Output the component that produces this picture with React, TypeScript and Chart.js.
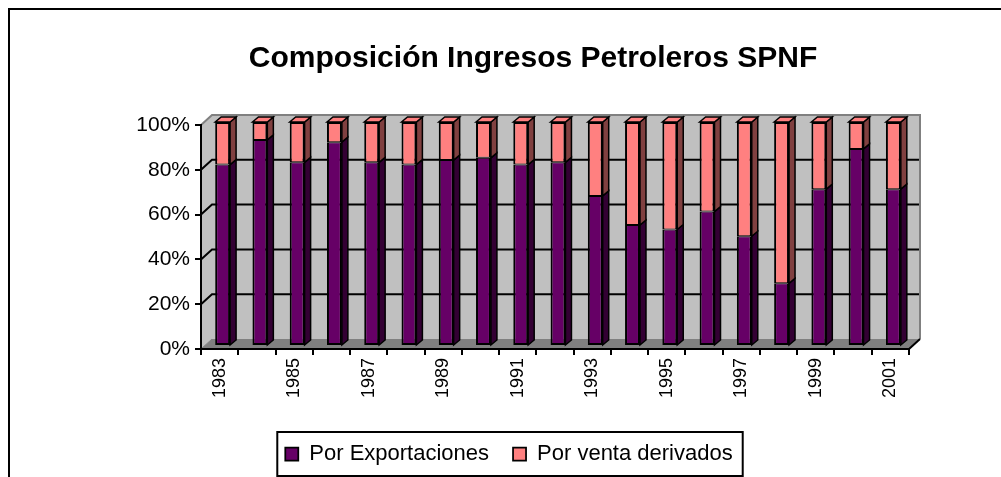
import React, { useEffect, useRef } from 'react';
import { Chart, registerables } from 'chart.js';

Chart.register(...registerables);

// ---- data ----
const years = ['1983', '1984', '1985', '1986', '1987', '1988', '1989', '1990', '1991', '1992', '1993', '1994', '1995', '1996', '1997', '1998', '1999', '2000', '2001'];
const porExportaciones = [81, 92, 82, 91, 82, 81, 83, 84, 81, 82, 67, 54, 52, 60, 49, 28, 70, 88, 70];
const porVentaDerivados = [19, 8, 18, 9, 18, 19, 17, 16, 19, 18, 33, 46, 48, 40, 51, 72, 30, 12, 30];
const yTickValues = [0, 20, 40, 60, 80, 100];
const seriesLabels = ['Por Exportaciones', 'Por venta derivados'];
const titleText = 'Composición Ingresos Petroleros SPNF';

// ---- style ----
const frontColors = ['#660066', '#FF8080'];
const sideColors = ['#330033', '#804040'];
const topColor = '#FF8080';
const WALL = { dx: 11, dy: -10 };
const BAR_DEPTH = { dx: 6, dy: -5 };
const BAR_SHIFT = { dx: 3, dy: -3 };
const FONT = "'Liberation Sans', Arial, Helvetica, sans-serif";

const threeD = {
  id: 'threeD',
  beforeDraw(chart: any) {
    const { ctx, chartArea: a, scales } = chart;
    const ys = scales.y;
    const L = a.left, R = a.right;
    const T = ys.getPixelForValue(100), B = ys.getPixelForValue(0);
    const { dx, dy } = WALL;
    ctx.save();
    ctx.fillStyle = '#C0C0C0';
    ctx.fillRect(L + dx, T + dy, R - L, B - T);
    ctx.beginPath();
    ctx.moveTo(L, T); ctx.lineTo(L + dx, T + dy); ctx.lineTo(L + dx, B + dy); ctx.lineTo(L, B);
    ctx.closePath(); ctx.fill();
    ctx.fillStyle = '#808080';
    ctx.beginPath();
    ctx.moveTo(L, B); ctx.lineTo(R, B); ctx.lineTo(R + dx, B + dy); ctx.lineTo(L + dx, B + dy);
    ctx.closePath(); ctx.fill();
    ctx.strokeStyle = '#000';
    ctx.lineWidth = 2;
    for (const v of yTickValues) {
      if (v === 0 || v === 100) continue;
      const py = ys.getPixelForValue(v);
      ctx.beginPath();
      ctx.moveTo(L, py); ctx.lineTo(L + dx, py + dy); ctx.lineTo(R + dx, py + dy);
      ctx.stroke();
    }
    ctx.strokeStyle = '#808080';
    ctx.beginPath();
    ctx.moveTo(L, T); ctx.lineTo(L + dx, T + dy); ctx.lineTo(R + dx, T + dy); ctx.lineTo(R + dx, B + dy);
    ctx.stroke();
    ctx.lineWidth = 1;
    ctx.beginPath();
    ctx.moveTo(L, B); ctx.lineTo(L + dx, B + dy);
    ctx.stroke();
    ctx.strokeStyle = '#000';
    ctx.lineWidth = 2;
    ctx.beginPath();
    ctx.moveTo(R, B); ctx.lineTo(R + dx, B + dy);
    ctx.stroke();
    ctx.restore();
  },
  beforeDatasetsDraw(chart: any) {
    chart.ctx.save();
    chart.ctx.translate(BAR_SHIFT.dx, BAR_SHIFT.dy);
  },
  afterDatasetsDraw(chart: any) {
    const ctx = chart.ctx;
    const n = chart.data.datasets.length;
    const { dx, dy } = BAR_DEPTH;
    ctx.lineWidth = 1.5;
    ctx.strokeStyle = '#000';
    ctx.lineJoin = 'miter';
    chart.data.datasets.forEach((_ds: any, di: number) => {
      const meta = chart.getDatasetMeta(di);
      meta.data.forEach((el: any) => {
        const { x, y, base, width } = el.getProps(['x', 'y', 'base', 'width'], true);
        const left = x - width / 2, right = x + width / 2;
        const top = Math.min(y, base), bot = Math.max(y, base);
        ctx.fillStyle = sideColors[di];
        ctx.beginPath();
        ctx.moveTo(right, top); ctx.lineTo(right + dx, top + dy); ctx.lineTo(right + dx, bot + dy); ctx.lineTo(right, bot);
        ctx.closePath(); ctx.fill(); ctx.stroke();
        if (di === n - 1) {
          ctx.fillStyle = topColor;
          ctx.beginPath();
          ctx.moveTo(left, top); ctx.lineTo(left + dx, top + dy); ctx.lineTo(right + dx, top + dy); ctx.lineTo(right, top);
          ctx.closePath(); ctx.fill(); ctx.stroke();
        }
      });
    });
    ctx.restore();
  },
  afterDraw(chart: any) {
    const lg = chart.legend;
    const hb = lg && lg.legendHitBoxes;
    if (!hb || hb.length < 2) return;
    const ctx = chart.ctx;
    const cy = hb[0].top + hb[0].height / 2;
    const left = hb[0].left - 8;
    const right = hb[1].left + hb[1].width + 10;
    ctx.save();
    ctx.strokeStyle = '#000';
    ctx.lineWidth = 2;
    ctx.strokeRect(left, cy - 22, right - left, 44);
    ctx.restore();
  },
};

export default function App() {
  const ref = useRef<HTMLCanvasElement>(null);
  useEffect(() => {
    if (!ref.current) return;
    Chart.defaults.font.family = FONT;
    const chart = new Chart(ref.current, {
      type: 'bar',
      data: {
        labels: years,
        datasets: [
          {
            label: seriesLabels[0],
            data: porExportaciones,
            backgroundColor: frontColors[0],
            borderColor: '#000',
            borderWidth: { top: 1, bottom: 2, left: 2, right: 2 },
            borderSkipped: false,
            barPercentage: 0.4,
            categoryPercentage: 1,
            clip: false,
          } as any,
          {
            label: seriesLabels[1],
            data: porVentaDerivados,
            backgroundColor: frontColors[1],
            borderColor: '#000',
            borderWidth: { top: 2, bottom: 1, left: 2, right: 2 },
            borderSkipped: false,
            barPercentage: 0.4,
            categoryPercentage: 1,
            clip: false,
          } as any,
        ],
      },
      options: {
        animation: false,
        responsive: false,
        devicePixelRatio: 1,
        layout: { padding: { left: 120, right: 55, top: 0, bottom: 2 } },
        scales: {
          x: {
            stacked: true,
            ticks: {
              autoSkip: false,
              minRotation: 90,
              maxRotation: 90,
              color: '#000',
              padding: 3,
              font: { size: 18 },
              callback: (_v: any, i: number) => (i % 2 === 0 ? years[i] : ''),
            },
            grid: { drawOnChartArea: false, color: '#000', lineWidth: 2, tickLength: 6, offset: true },
            border: { color: '#000', width: 2 },
            afterFit: (s: any) => { s.height = 70; },
          },
          y: {
            stacked: true,
            min: 0,
            max: 100,
            ticks: {
              stepSize: 20,
              color: '#000',
              padding: 5,
              font: { size: 21 },
              callback: (v: any) => v + '%',
            },
            grid: { drawOnChartArea: false, color: '#000', lineWidth: 2, tickLength: 6 },
            border: { color: '#000', width: 2 },
            afterFit: (s: any) => { s.width = 81; },
          },
          yRightSpace: {
            type: 'linear',
            position: 'right',
            display: true,
            grid: { display: false, drawTicks: false },
            ticks: { display: false },
            border: { display: false },
            afterFit: (s: any) => { s.width = 37; },
          },
        },
        plugins: {
          title: {
            display: true,
            text: titleText,
            color: '#000',
            font: { size: 30, weight: 'bold' },
            padding: { top: 41, bottom: 48 },
          },
          legend: {
            position: 'bottom',
            labels: {
              boxWidth: 13,
              boxHeight: 13,
              padding: 24,
              color: '#000',
              font: { size: 22 },
              generateLabels: (c: any) => {
                const items = (Chart.defaults.plugins.legend.labels as any).generateLabels(c);
                items.push({ text: '', fillStyle: 'rgba(0,0,0,0)', strokeStyle: 'rgba(0,0,0,0)', lineWidth: 0, hidden: false });
                return items;
              },
            },
          },
          tooltip: { enabled: false },
        },
      } as any,
      plugins: [threeD],
    });
    return () => chart.destroy();
  }, []);
  return (
    <div>
      <div
        style={{
          position: 'fixed', left: 8, top: 8, width: 993, height: 469, boxSizing: 'border-box',
          borderLeft: '2px solid #000', borderTop: '2px solid #000', pointerEvents: 'none',
        }}
      />
      <canvas
        ref={ref}
        width={1001}
        height={477}
        style={{ position: 'fixed', left: 0, top: 0, width: 1001, height: 477 }}
      />
    </div>
  );
}
